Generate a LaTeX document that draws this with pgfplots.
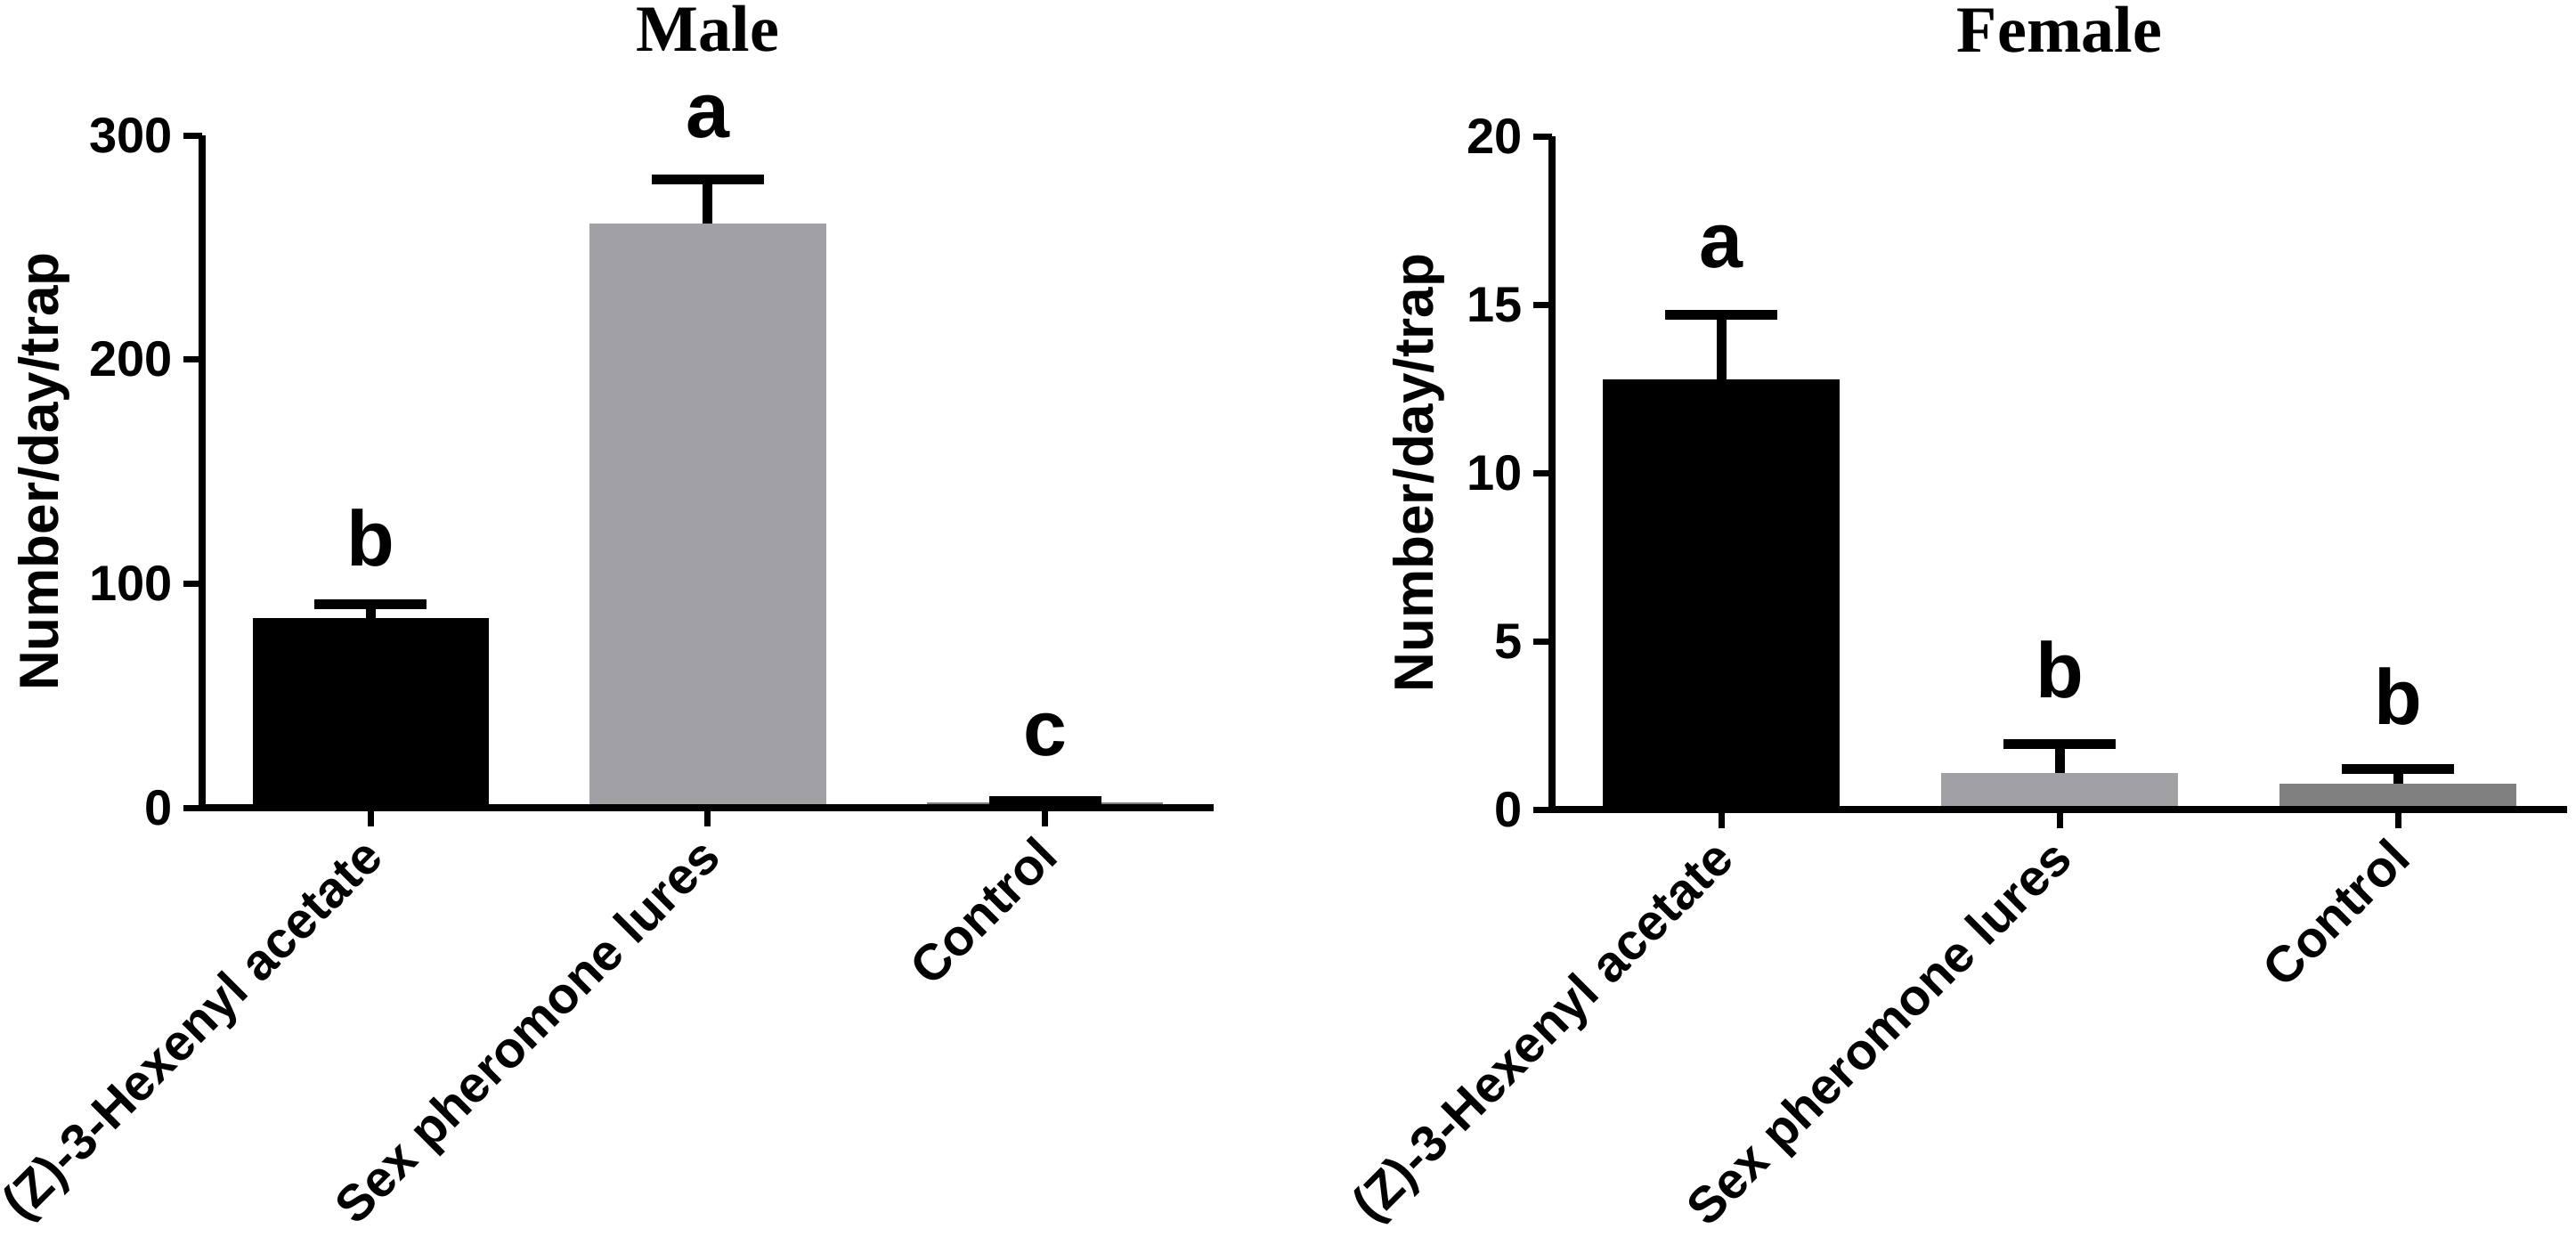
\documentclass[border=0pt]{standalone}
\usepackage{fontspec}
\setmainfont{Liberation Sans}
\newfontfamily\titlefont{Liberation Serif}
\usepackage{pgfplots}
\pgfplotsset{compat=1.18}
\definecolor{bargray}{RGB}{161,161,165}
\definecolor{bardark}{RGB}{128,128,128}
\tikzset{letter/.style={font=\bfseries\fontsize{22}{22}\selectfont, anchor=base}}
\pgfplotsset{
  panel/.style={
    scale only axis,
    xmin=-0.5, xmax=2.5, ymin=0,
    axis x line*=bottom, axis y line*=left,
    axis line style={-, line width=2pt},
    tick align=outside, major tick length=5.3pt,
    major tick style={line width=1.75pt, black},
    minor tick num=0,
    xtick={0,1,2},
    xticklabels={(Z)-3-Hexenyl acetate, Sex pheromone lures, Control},
    xticklabel style={rotate=45, anchor=north east, inner sep=0pt, xshift=-3.5pt, yshift=1pt,
      font=\bfseries\fontsize{14.3}{14.3}\selectfont},
    yticklabel style={inner sep=2.75pt, font=\bfseries\fontsize{14}{14}\selectfont},
    /pgf/number format/assume math mode=true,
    ylabel={Number/day/trap},
    ylabel style={font=\bfseries\fontsize{15.5}{15.5}\selectfont, anchor=center},
    title style={at={(0.5,1)}, anchor=base, yshift=17.75pt, font=\titlefont\bfseries\fontsize{18.5}{18.5}\selectfont},
    axis on top, clip=false,
    ybar, bar width=0.7,
  },
  barplot/.style={draw=none, bar shift=0pt,
    error bars/y dir=plus, error bars/y explicit,
    error bars/error bar style={line width=2.75pt, black},
    error bars/error mark options={rotate=90, line width=2.75pt, mark size=15.75pt, black}},
}
\begin{document}
\begin{tikzpicture}
\useasboundingbox (0,0) rectangle (723.25pt,349.25pt);
% Male
\begin{axis}[panel, at={(56.75pt,122.5pt)}, anchor=south west,
  width=284pt, height=188.75pt, ymax=300, ytick={0,100,200,300},
  title={Male},
  ylabel style={at={(axis description cs:-0.156,0.5)}}]
\addplot[barplot, fill=black] coordinates {(0,84.7) +- (0,6.0)};
\addplot[barplot, fill=bargray] coordinates {(1,260.5) +- (0,19.9)};
\addplot[barplot, fill=bardark] coordinates {(2,2.5) +- (0,0.6)};
\node[letter] at (axis cs:0,108) {b};
\node[letter] at (axis cs:1,299) {a};
\node[letter] at (axis cs:2,23.4) {c};
\end{axis}
% Female
\begin{axis}[panel, at={(435.75pt,122pt)}, anchor=south west,
  width=285pt, height=189pt, ymax=20, ytick={0,5,10,15,20},
  title={Female},
  ylabel style={at={(axis description cs:-0.131,0.5)}}]
\addplot[barplot, fill=black] coordinates {(0,12.77) +- (0,1.92)};
\addplot[barplot, fill=bargray] coordinates {(1,1.09) +- (0,0.86)};
\addplot[barplot, fill=bardark] coordinates {(2,0.77) +- (0,0.43)};
\node[letter] at (axis cs:0,16.1) {a};
\node[letter] at (axis cs:1,3.33) {b};
\node[letter] at (axis cs:2,2.54) {b};
\end{axis}
\end{tikzpicture}
\end{document}
